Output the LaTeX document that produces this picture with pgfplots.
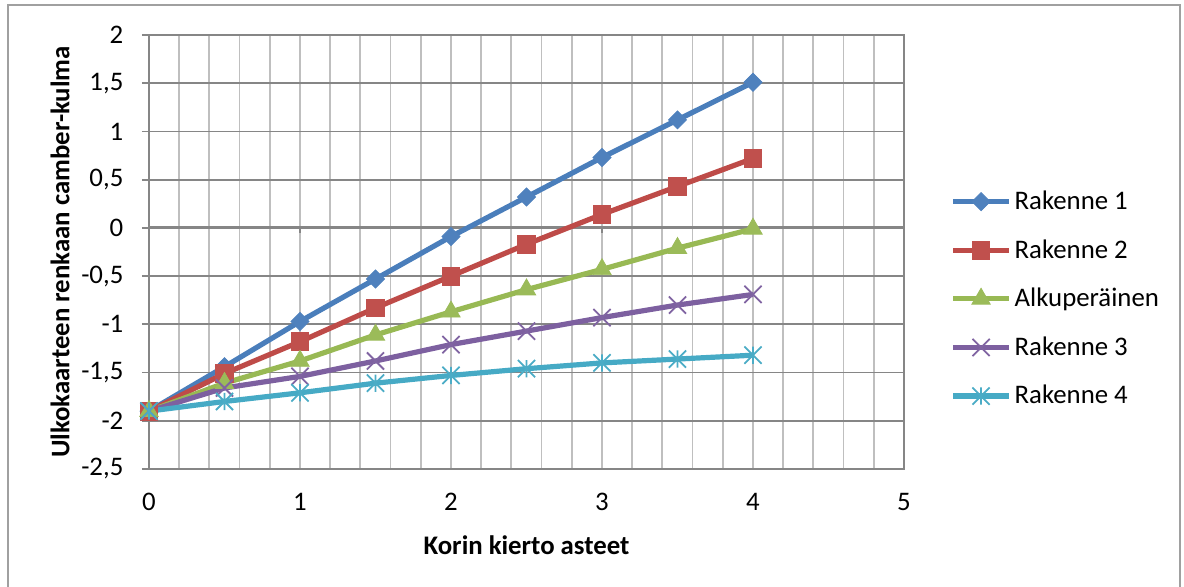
\documentclass[border=0pt]{standalone}
\usepackage{pgfplots}
\pgfplotsset{compat=1.18}
\usepackage{fontspec}
\setmainfont{Carlito}

\definecolor{gridmajor}{HTML}{868686}
\definecolor{gridminor}{HTML}{BFBFBF}
\definecolor{frameline}{HTML}{A0A0A0}
\definecolor{lblue}{HTML}{4A7EBB}\definecolor{mblue}{HTML}{4F81BD}
\definecolor{lred}{HTML}{BE4B48}\definecolor{mred}{HTML}{C0504D}
\definecolor{lgreen}{HTML}{98B954}\definecolor{mgreen}{HTML}{9BBB59}
\definecolor{lpurple}{HTML}{7D60A0}\definecolor{mpurple}{HTML}{8064A2}
\definecolor{lcyan}{HTML}{46AAC5}\definecolor{mcyan}{HTML}{4BACC6}

% square-cornered cross and cross-with-bar markers
\pgfdeclareplotmark{bigx}{%
  \pgfpathmoveto{\pgfqpoint{-\pgfplotmarksize}{-\pgfplotmarksize}}%
  \pgfpathlineto{\pgfqpoint{\pgfplotmarksize}{\pgfplotmarksize}}%
  \pgfpathmoveto{\pgfqpoint{-\pgfplotmarksize}{\pgfplotmarksize}}%
  \pgfpathlineto{\pgfqpoint{\pgfplotmarksize}{-\pgfplotmarksize}}%
  \pgfusepathqstroke}
\pgfdeclareplotmark{xstar}{%
  \pgfpathmoveto{\pgfqpoint{-\pgfplotmarksize}{-\pgfplotmarksize}}%
  \pgfpathlineto{\pgfqpoint{\pgfplotmarksize}{\pgfplotmarksize}}%
  \pgfpathmoveto{\pgfqpoint{-\pgfplotmarksize}{\pgfplotmarksize}}%
  \pgfpathlineto{\pgfqpoint{\pgfplotmarksize}{-\pgfplotmarksize}}%
  \pgfpathmoveto{\pgfqpoint{0pt}{-\pgfplotmarksize}}%
  \pgfpathlineto{\pgfqpoint{0pt}{\pgfplotmarksize}}%
  \pgfusepathqstroke}

\begin{document}
\begin{tikzpicture}
\useasboundingbox (-74.5pt,-59pt) rectangle (517.5pt,234.5pt);
% outer chart frame
\draw[frameline, line width=0.8pt] (-70.5pt,-70pt) rectangle (515.5pt,232pt);
\begin{axis}[
  scale only axis,
  width=377.5pt, height=217pt,
  xmin=0, xmax=5, ymin=-2.5, ymax=2,
  xtick={0,1,2,3,4,5},
  minor x tick num=4,
  ytick={-2.5,-2,...,2},
  xmajorgrids, xminorgrids, ymajorgrids,
  major x grid style={gridminor, line width=0.9pt},
  minor x grid style={gridminor, line width=0.9pt},
  major y grid style={gridmajor, line width=0.9pt},
  axis line style={gridmajor, line width=0.9pt},
  x tick style={draw=none},
  minor x tick style={draw=none},
  y tick style={gridmajor, line width=0.9pt},
  ytick align=outside, major tick length=3.5pt,
  ytick pos=left,
  font=\fontsize{13.4}{16}\selectfont,
  /pgf/number format/assume math mode=true,
  /pgf/number format/use comma,
  /pgf/number format/1000 sep={},
  xticklabel style={yshift=-8.5pt},
  yticklabel style={xshift=-5.8pt},
  xlabel={\bfseries Korin kierto asteet},
  ylabel={\bfseries Ulkokaarteen renkaan camber-kulma},
  xlabel style={at={(axis description cs:0.5,0)}, anchor=center, yshift=-38pt},
  ylabel style={at={(axis description cs:0,0.5)}, anchor=center, yshift=44.5pt},
  legend style={at={(1.061,0.392)}, anchor=west, draw=none, fill=none,
    inner sep=0pt, row sep=9.5pt, font=\fontsize{13.4}{16}\selectfont,
    nodes={inner xsep=1.5pt}},
  legend cell align=left,
  legend image code/.code={\draw[mark repeat=2,mark phase=2,#1]
    plot coordinates {(0pt,0pt)(14pt,0pt)(28pt,0pt)};},
  every axis plot/.append style={line width=2.6pt},
  clip=false,
]
% zero line with its tick marks
\draw[gridmajor, line width=1.6pt] (axis cs:0,0) -- (axis cs:5,0);
\pgfplotsinvokeforeach{0,1,2,3,4,5}{\draw[gridmajor, line width=1.4pt] (axis cs:#1,0) -- ([yshift=-2.5pt]axis cs:#1,0);}

\addplot[color=lblue, mark=square*, mark size=3.2pt,
  mark options={rotate=45, fill=mblue, draw=mblue, line width=0.4pt}]
  coordinates {(0,-1.90)(0.5,-1.44)(1,-0.97)(1.5,-0.53)(2,-0.09)(2.5,0.32)(3,0.73)(3.5,1.12)(4,1.51)};
\addlegendentry{Rakenne 1}
\addplot[color=lred, mark=square*, mark size=4.4pt,
  mark options={fill=mred, draw=mred, line width=0.4pt}]
  coordinates {(0,-1.90)(0.5,-1.51)(1,-1.18)(1.5,-0.83)(2,-0.50)(2.5,-0.17)(3,0.14)(3.5,0.43)(4,0.72)};
\addlegendentry{Rakenne 2}
\addplot[color=lgreen, mark=triangle*, mark size=5.3pt,
  mark options={fill=mgreen, draw=mgreen, line width=0.4pt}]
  coordinates {(0,-1.90)(0.5,-1.61)(1,-1.38)(1.5,-1.11)(2,-0.87)(2.5,-0.64)(3,-0.43)(3.5,-0.21)(4,-0.01)};
\addlegendentry{Alkuperäinen}
\addplot[color=lpurple, mark=bigx, mark size=4.3pt,
  mark options={draw=mpurple, line width=0.9pt}]
  coordinates {(0,-1.90)(0.5,-1.66)(1,-1.54)(1.5,-1.38)(2,-1.21)(2.5,-1.07)(3,-0.93)(3.5,-0.80)(4,-0.69)};
\addlegendentry{Rakenne 3}
\addplot[color=lcyan, mark=xstar, mark size=4.3pt,
  mark options={draw=mcyan, line width=0.9pt}]
  coordinates {(0,-1.90)(0.5,-1.80)(1,-1.71)(1.5,-1.61)(2,-1.53)(2.5,-1.46)(3,-1.40)(3.5,-1.36)(4,-1.32)};
\addlegendentry{Rakenne 4}
\end{axis}
\end{tikzpicture}
\end{document}
